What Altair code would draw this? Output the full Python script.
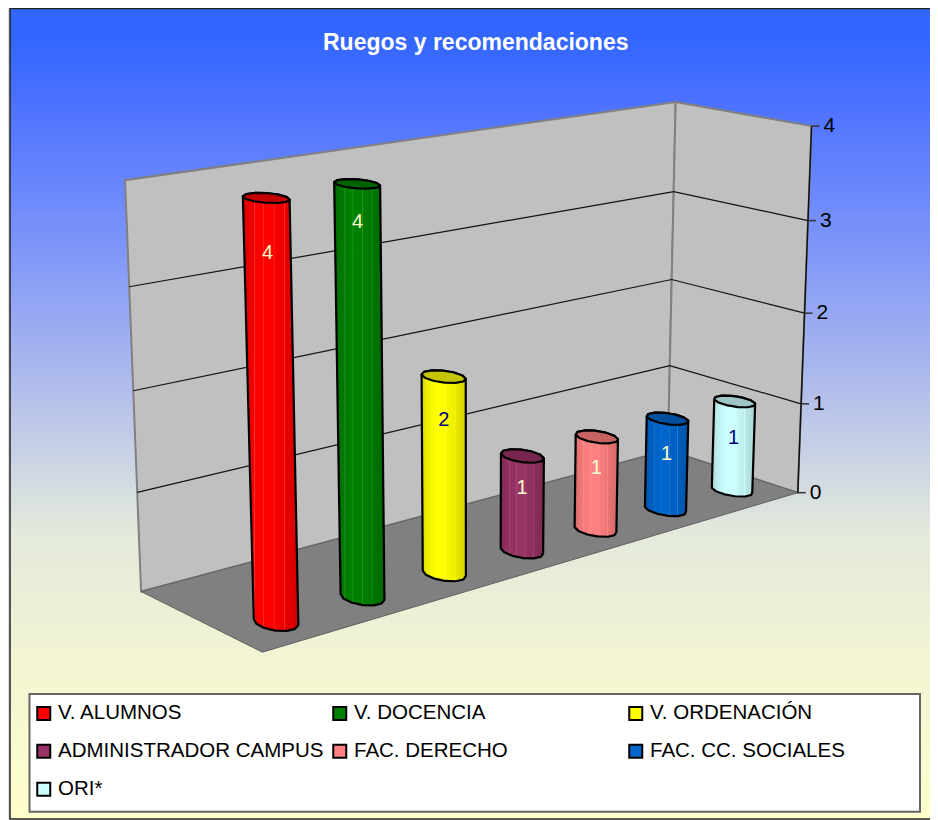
import altair as alt
import numpy as np
import pandas as pd

categories = ["V. ALUMNOS", "V. DOCENCIA", "V. ORDENACIÓN", "ADMINISTRADOR CAMPUS",
              "FAC. DERECHO", "FAC. CC. SOCIALES", "ORI*"]
values = [4, 4, 2, 1, 1, 1, 1]
labels = ["4", "4", "2", "1", "1", "1", "1"]
colors = ["#FF0000", "#008000", "#FFFF00", "#993366", "#FF8080", "#0066CC", "#CCFFFF"]
label_colors = ["#FFFFCC", "#FFFFCC", "#000080", "#FFFFCC", "#FFFFCC", "#FFFFCC", "#000080"]
label_depth = [0.50, 0.35, 0.43, 0.34, 0.33, 0.39, 0.41]
axis_ticks = [0, 1, 2, 3, 4]
FONT = "Liberation Sans"

# background colour stops
bg_stops = [(0, "#3366FF"), (.04, "#3366FF"), (.11, "#4A70FF"), (.31, "#8399F8"), (.46, "#AFBBEC"),
            (.644, "#E3E9DC"), (.80, "#F2F4D3"), (1, "#FFFFCC")]

# 3D box -> picture calibration (u along the front, v depth, h value)
calib = [((0, 0, 0), (262.7, 651.7)), ((1, 0, 0), (797, 494)), ((1, 1, 0), (669, 449)),
         ((0, 1, 0), (141, 592)), ((0, 1, 4), (126, 180)), ((1, 1, 4), (675.7, 102)),
         ((1, 0, 4), (812, 125.7)), ((1, 0, 3), (808, 220)), ((1, 0, 2), (804, 314)),
         ((1, 0, 1), (801.7, 403)), ((1, 1, 3), (673.5, 192)), ((1, 1, 2), (671, 280)),
         ((0, 1, 3), (128.5, 287)), ((0, 1, 2), (133, 391)), ((0, 1, 1), (137, 492))]
A = []
for (u, v, h), (px, py) in calib:
    px, py = px / 1000, py / 1000
    A.append([u, v, h, 1, 0, 0, 0, 0, -px * u, -px * v, -px * h, -px])
    A.append([0, 0, 0, 0, u, v, h, 1, -py * u, -py * v, -py * h, -py])
P = np.linalg.svd(np.array(A, float))[2][-1].reshape(3, 4)


def proj(u, v, h):
    q = P @ np.array([u, v, h, 1.0])
    return (1000 * q[0] / q[2], 1000 * q[1] / q[2])


def floor_inverse(px, py):
    H = P[:, [0, 1, 3]]
    q = np.linalg.solve(H, np.array([px / 1000, py / 1000, 1.0]))
    return q[0] / q[2], q[1] / q[2]


u0, v0 = floor_inverse(276, 622)
u6, v6 = floor_inverse(732, 490)
us = [u0 + (u6 - u0) * i / 6 for i in range(7)]
vs = [v0 + (v6 - v0) * i / 6 for i in range(7)]
RU, RV = 0.0245, 0.129

xs = alt.Scale(domain=[8, 930], nice=False, zero=False)
ys = alt.Scale(domain=[820, 8], nice=False, zero=False)


def hull(pts):
    pts = sorted(set(pts))
    def half(seq):
        out = []
        for p in seq:
            while len(out) > 1 and (out[-1][0] - out[-2][0]) * (p[1] - out[-2][1]) - (out[-1][1] - out[-2][1]) * (p[0] - out[-2][0]) <= 0:
                out.pop()
            out.append(p)
        return out[:-1]
    return half(pts) + half(pts[::-1])


def rows(poly):
    poly = [(float(a), float(b)) for a, b in poly]
    out = []
    for y in sorted({p[1] for p in poly}):
        cross = []
        for a, b in zip(poly, poly[1:] + poly[:1]):
            if min(a[1], b[1]) <= y <= max(a[1], b[1]):
                if a[1] == b[1]:
                    cross += [a[0], b[0]]
                else:
                    cross.append(a[0] + (b[0] - a[0]) * (y - a[1]) / (b[1] - a[1]))
        out.append({"y": y, "x": min(cross), "x2": max(cross)})
    return pd.DataFrame(out)


def polygon(poly, **mark):
    return alt.Chart(rows(poly)).mark_area(orient="horizontal", interpolate="linear", **mark).encode(
        x=alt.X("x:Q", scale=xs, axis=None), x2="x2:Q", y=alt.Y("y:Q", scale=ys, axis=None))


def polyline(points, **mark):
    df = pd.DataFrame([{"x": a, "y": b, "i": i} for i, (a, b) in enumerate(points)])
    return alt.Chart(df).mark_line(interpolate="linear", **mark).encode(
        x=alt.X("x:Q", scale=xs, axis=None), y=alt.Y("y:Q", scale=ys, axis=None), order="i:Q")


def rgb(c):
    return [int(c[i:i + 2], 16) for i in (1, 3, 5)]


def shade(c, f):
    return "#%02x%02x%02x" % tuple(int(min(255, max(0, x * f))) for x in rgb(c))


def tint(c, t):
    return "#%02x%02x%02x" % tuple(int(x + (255 - x) * t) for x in rgb(c))


def body_fill(c):
    stops = [(0, shade(c, .80)), (.10, shade(c, .92)), (.20, shade(c, .95)), (.21, tint(c, .18)), (.23, shade(c, .97)),
             (.36, c), (.37, tint(c, .15)), (.39, c), (.55, c), (.56, tint(c, .15)), (.58, shade(c, .97)),
             (.74, shade(c, .93)), (.75, tint(c, .15)), (.77, shade(c, .92)), (1, shade(c, .82))]
    return alt.LinearGradient(gradient="linear", x1=0, x2=1, y1=0, y2=0,
                              stops=[alt.GradientStop(offset=o, color=k) for o, k in stops])


layers = []

# background panel
bg = pd.DataFrame({"x": [10], "x2": [960], "y": [8.5], "y2": [819]})
layers.append(alt.Chart(bg).mark_rect(
    fill=alt.LinearGradient(gradient="linear", x1=0, x2=0, y1=0, y2=1,
                            stops=[alt.GradientStop(offset=o, color=k) for o, k in bg_stops]),
    stroke="#222222", strokeWidth=1.5).encode(
    x=alt.X("x:Q", scale=xs, axis=None), x2="x2:Q", y=alt.Y("y:Q", scale=ys, axis=None), y2="y2:Q"))

# walls and floor
GR = dict(fill="#C0C0C0", stroke="#808080", strokeWidth=2)
layers.append(polygon([proj(0, 1, 0), proj(1, 1, 0), proj(1, 1, 4), proj(0, 1, 4)], **GR))
layers.append(polygon([proj(1, 1, 0), proj(1, 0, 0), proj(1, 0, 4), proj(1, 1, 4)], **GR))
layers.append(polygon([proj(0, 0, 0), proj(1, 0, 0), proj(1, 1, 0), proj(0, 1, 0)],
                      fill="#808080", stroke="#606060", strokeWidth=1))

# gridlines, axis line, ticks
for t in axis_ticks[1:4]:
    layers.append(polyline([proj(0, 1, t), proj(1, 1, t), proj(1, 0, t)], color="#111111", strokeWidth=1.2))
layers.append(polyline([proj(1, 0, 0), proj(1, 0, 4)], color="#111111", strokeWidth=1.5))
for t in axis_ticks:
    a = proj(1, 0, t)
    layers.append(polyline([a, (a[0] + 8, a[1])], color="#333333", strokeWidth=1.5))
tick_df = pd.DataFrame([{"x": proj(1, 0, t)[0] + 12, "y": proj(1, 0, t)[1], "t": str(t)} for t in axis_ticks])
layers.append(alt.Chart(tick_df).mark_text(align="left", baseline="middle", font=FONT, fontSize=21, color="#000000").encode(
    x=alt.X("x:Q", scale=xs, axis=None), y=alt.Y("y:Q", scale=ys, axis=None), text="t:N"))

# cylinders
angles = [2 * np.pi * k / 12 + 0.2 for k in range(12)]
for i, val in enumerate(values):
    ring = lambda h: [proj(us[i] + RU * np.cos(a), vs[i] + RV * np.sin(a), h) for a in angles]
    body = hull(ring(0) + ring(val))
    top = hull(ring(val))
    layers.append(polygon(body, fill=body_fill(colors[i]), stroke="#000000", strokeWidth=2.2, strokeJoin="round"))
    layers.append(polygon(top, fill=shade(colors[i], .78), stroke="#000000", strokeWidth=2.2, strokeJoin="round"))
    lp = proj(us[i], vs[i], val - label_depth[i])
    lab = pd.DataFrame({"x": [lp[0]], "y": [lp[1]], "t": [labels[i]]})
    layers.append(alt.Chart(lab).mark_text(align="center", baseline="middle", font=FONT, fontSize=20,
                                           color=label_colors[i]).encode(
        x=alt.X("x:Q", scale=xs, axis=None), y=alt.Y("y:Q", scale=ys, axis=None), text="t:N"))

# legend panel and legend
box = pd.DataFrame({"x": [29.5], "x2": [920], "y": [694], "y2": [811.7]})
layers.append(alt.Chart(box).mark_rect(fill="#FFFFFF", stroke="#666666", strokeWidth=2).encode(
    x=alt.X("x:Q", scale=xs, axis=None), x2="x2:Q", y=alt.Y("y:Q", scale=ys, axis=None), y2="y2:Q"))
leg = pd.DataFrame({"category": categories, "x": [30] * 7, "y": [700] * 7})
layers.append(alt.Chart(leg).mark_square(size=0, filled=True, opacity=1).encode(
    x=alt.X("x:Q", scale=xs, axis=None), y=alt.Y("y:Q", scale=ys, axis=None),
    color=alt.Color("category:N", scale=alt.Scale(domain=categories, range=colors), title=None,
                    legend=alt.Legend(orient="none", legendX=25.5, legendY=695, columns=3, gridAlign="all",
                                      direction="horizontal",
                                      symbolType="square", symbolSize=169, symbolStrokeColor="#000000",
                                      symbolStrokeWidth=2, symbolOpacity=1, labelFont=FONT, labelFontSize=20.5,
                                      labelColor="#000000",
                                      labelOffset=4, labelLimit=300, columnPadding=5, rowPadding=16,
                                      zindex=1))))

chart = alt.layer(*layers).properties(
    width=922, height=812,
    padding=0,
    autosize=alt.AutoSizeParams(type="none"),
    title=alt.TitleParams("Ruegos y recomendaciones", font=FONT, fontSize=23, fontWeight="bold", color="#FFFFFF",
                          anchor="start", frame="group", dx=315, dy=69, zindex=1, baseline="alphabetic"),
).configure_view(stroke=None).configure(background="#FFFFFF")

chart.save("out.html", embed_options={"renderer": "svg", "actions": False})
